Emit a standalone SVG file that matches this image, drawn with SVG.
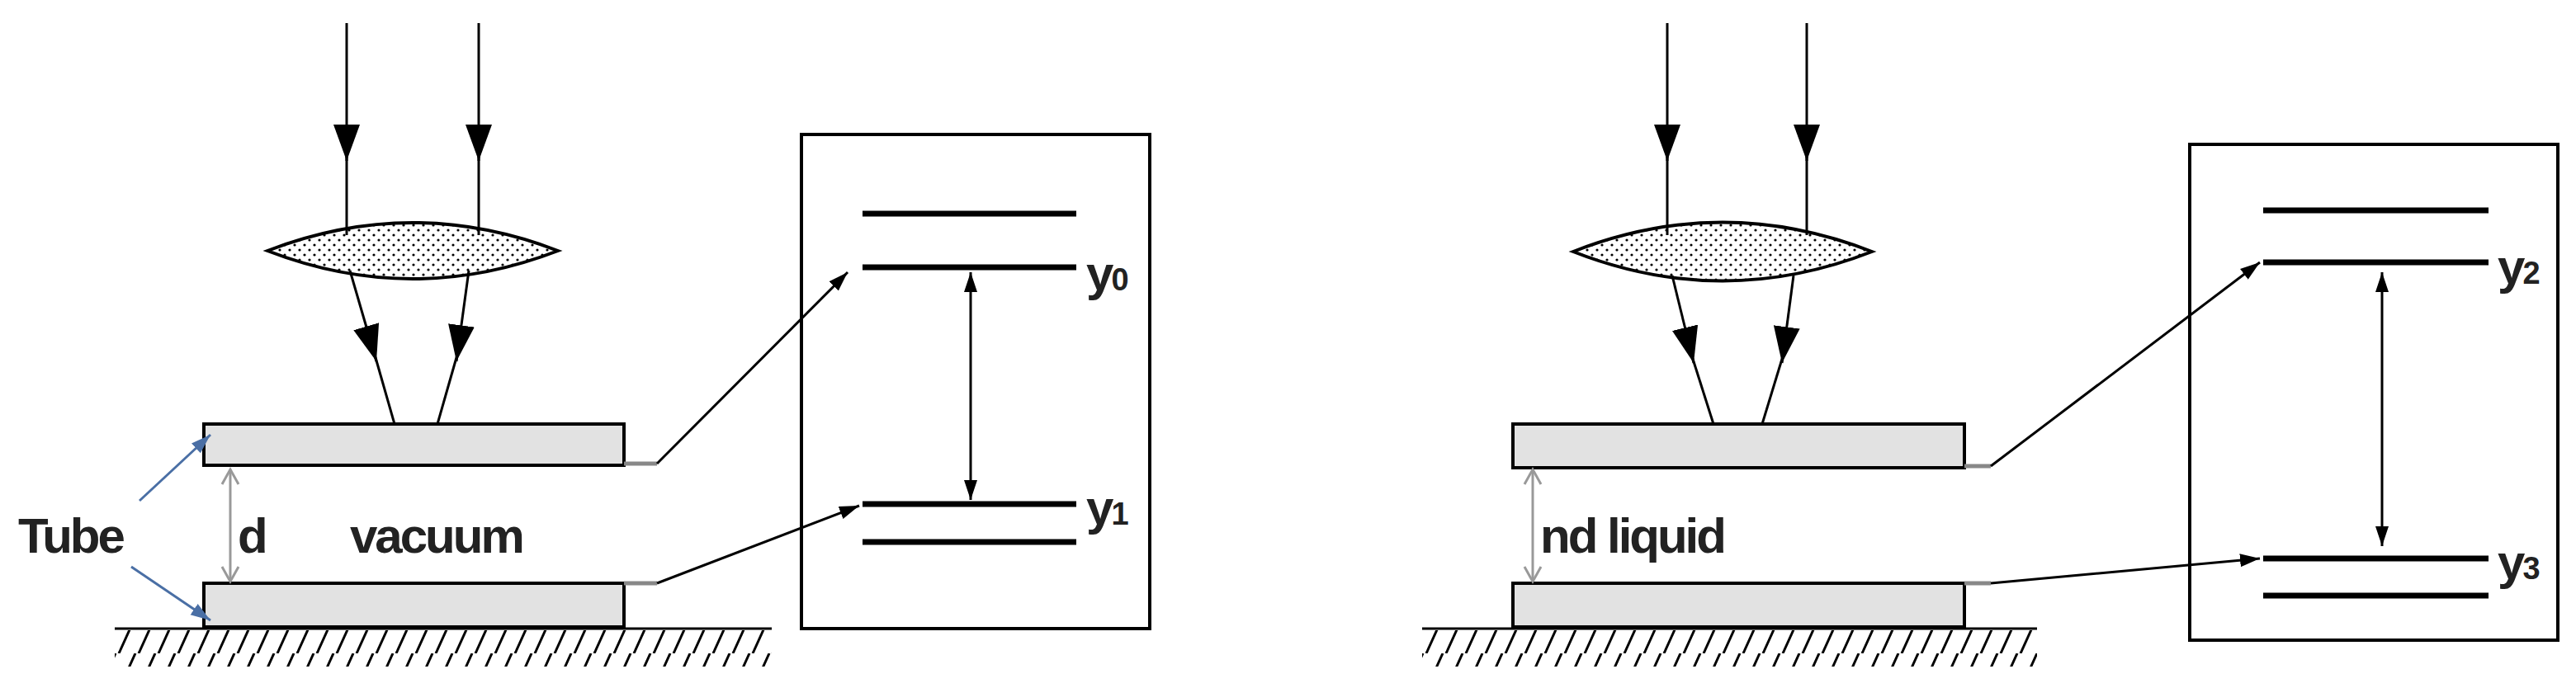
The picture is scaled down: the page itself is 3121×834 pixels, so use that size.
<svg xmlns="http://www.w3.org/2000/svg" width="3121" height="834" viewBox="0 0 3121 834">
<style>
.ln{stroke:#000;stroke-width:3;fill:none}
.lv{stroke:#000;stroke-width:7}
.pl{fill:#e2e2e2;stroke:#000;stroke-width:4}
.gr{stroke:#999;stroke-width:3;fill:none}
.tab{stroke:#888;stroke-width:5}
.bx{fill:#fff;stroke:#000;stroke-width:4}
.lens{fill:url(#dots);stroke:#000;stroke-width:4}
.tx{font-family:"Liberation Sans",Arial,sans-serif;font-weight:bold;font-size:60px;fill:#222;letter-spacing:-3px}
.hat{stroke:#000;stroke-width:3}
</style>
<defs>
<pattern id="dots" width="12" height="12" patternUnits="userSpaceOnUse"><rect width="12" height="12" fill="#fff"/><circle cx="3" cy="3" r="1.6" fill="#000"/><circle cx="9" cy="9" r="1.6" fill="#000"/></pattern>
<pattern id="hatch" width="24" height="44" patternUnits="userSpaceOnUse"><line x1="20" y1="0" x2="0" y2="44" class="hat"/><line x1="44" y1="0" x2="24" y2="44" class="hat"/></pattern>
<marker id="big" markerWidth="46" markerHeight="34" refX="44" refY="17" orient="auto" markerUnits="userSpaceOnUse"><path d="M0,1 L44,17 L0,33 Z" fill="#000"/></marker>
<marker id="ah" markerWidth="26" markerHeight="24" refX="24" refY="12" orient="auto" markerUnits="userSpaceOnUse"><path d="M0,4 L24,12 L0,20 Z" fill="#000"/></marker>
<marker id="ahs" markerWidth="26" markerHeight="24" refX="2" refY="12" orient="auto" markerUnits="userSpaceOnUse"><path d="M26,4 L2,12 L26,20 Z" fill="#000"/></marker>
<marker id="bl" markerWidth="26" markerHeight="24" refX="24" refY="12" orient="auto" markerUnits="userSpaceOnUse"><path d="M0,4 L24,12 L0,20 Z" fill="#4a6fa5"/></marker>
<marker id="ge" markerWidth="24" markerHeight="24" refX="20" refY="12" orient="auto" markerUnits="userSpaceOnUse"><path d="M2,2 L20,12 L2,22" fill="none" stroke="#999" stroke-width="3"/></marker>
<marker id="gs" markerWidth="24" markerHeight="24" refX="4" refY="12" orient="auto" markerUnits="userSpaceOnUse"><path d="M22,2 L4,12 L22,22" fill="none" stroke="#999" stroke-width="3"/></marker>
</defs>
<rect width="3121" height="834" fill="#fff"/>

<g id="left-setup">
<rect x="139" y="764" width="796" height="44" fill="url(#hatch)"/>
<line x1="139" y1="762" x2="935" y2="762" class="ln" stroke-width="4"/>
<path d="M324,304 Q500,236 676,304 Q500,372 324,304 Z" class="lens"/>
<rect x="247" y="514" width="509" height="50" class="pl"/>
<rect x="247" y="707" width="509" height="53" class="pl"/>
<line x1="756" y1="562" x2="796" y2="562" class="tab"/>
<line x1="756" y1="707" x2="796" y2="707" class="tab"/>
<line x1="279" y1="569" x2="279" y2="705" class="gr" marker-start="url(#gs)" marker-end="url(#ge)"/>
<text class="tx" x="22" y="670">Tube</text>
<text class="tx" x="288" y="670">d</text>
<text class="tx" x="424" y="670">vacuum</text>
</g>
<g id="left-levels">
<rect x="971" y="163" width="422" height="599" class="bx"/>
<line x1="1045" y1="259" x2="1304" y2="259" class="lv"/>
<line x1="1045" y1="324" x2="1304" y2="324" class="lv"/>
<line x1="1045" y1="611" x2="1304" y2="611" class="lv"/>
<line x1="1045" y1="657" x2="1304" y2="657" class="lv"/>
<text class="tx" x="1316" y="352">y<tspan font-size="38">0</tspan></text>
<text class="tx" x="1316" y="636">y<tspan font-size="38">1</tspan></text>
</g>

<g id="right-setup">
<rect x="1723" y="764" width="745" height="44" fill="url(#hatch)"/>
<line x1="1723" y1="762" x2="2468" y2="762" class="ln" stroke-width="4"/>
<path d="M1906,305 Q2087,234 2268,305 Q2087,376 1906,305 Z" class="lens"/>
<rect x="1833" y="514" width="547" height="53" class="pl"/>
<rect x="1833" y="707" width="547" height="53" class="pl"/>
<line x1="2380" y1="565" x2="2412" y2="565" class="tab"/>
<line x1="2380" y1="707" x2="2412" y2="707" class="tab"/>
<line x1="1857" y1="569" x2="1857" y2="705" class="gr" marker-start="url(#gs)" marker-end="url(#ge)"/>
<text class="tx" x="1866" y="670">nd liquid</text>
</g>
<g id="right-levels">
<rect x="2653" y="175" width="446" height="601" class="bx"/>
<line x1="2742" y1="255" x2="3015" y2="255" class="lv"/>
<line x1="2742" y1="318" x2="3015" y2="318" class="lv"/>
<line x1="2742" y1="677" x2="3015" y2="677" class="lv"/>
<line x1="2742" y1="722" x2="3015" y2="722" class="lv"/>
<text class="tx" x="3026" y="344">y<tspan font-size="38">2</tspan></text>
<text class="tx" x="3026" y="702">y<tspan font-size="38">3</tspan></text>
</g>

<g id="connectors">
<line x1="420" y1="28" x2="420" y2="195" class="ln" marker-end="url(#big)"/>
<line x1="420" y1="190" x2="420" y2="285" class="ln"/>
<line x1="580" y1="28" x2="580" y2="195" class="ln" marker-end="url(#big)"/>
<line x1="580" y1="190" x2="580" y2="285" class="ln"/>
<line x1="424" y1="328" x2="456" y2="438" class="ln" marker-end="url(#big)"/>
<line x1="454" y1="430" x2="478" y2="514" class="ln"/>
<line x1="568" y1="328" x2="553" y2="438" class="ln" marker-end="url(#big)"/>
<line x1="554" y1="430" x2="530" y2="514" class="ln"/>
<line x1="796" y1="562" x2="1027" y2="330" class="ln" marker-end="url(#ah)"/>
<line x1="796" y1="707" x2="1041" y2="613" class="ln" marker-end="url(#ah)"/>
<line x1="1176" y1="330" x2="1176" y2="606" class="ln" marker-start="url(#ahs)" marker-end="url(#ah)"/>
<line x1="169" y1="607" x2="255" y2="527" stroke="#4a6fa5" stroke-width="3" marker-end="url(#bl)"/>
<line x1="159" y1="687" x2="255" y2="752" stroke="#4a6fa5" stroke-width="3" marker-end="url(#bl)"/>

<line x1="2020" y1="28" x2="2020" y2="195" class="ln" marker-end="url(#big)"/>
<line x1="2020" y1="190" x2="2020" y2="285" class="ln"/>
<line x1="2189" y1="28" x2="2189" y2="195" class="ln" marker-end="url(#big)"/>
<line x1="2189" y1="190" x2="2189" y2="285" class="ln"/>
<line x1="2026" y1="334" x2="2052" y2="440" class="ln" marker-end="url(#big)"/>
<line x1="2050" y1="432" x2="2076" y2="514" class="ln"/>
<line x1="2173" y1="334" x2="2159" y2="440" class="ln" marker-end="url(#big)"/>
<line x1="2160" y1="432" x2="2135" y2="514" class="ln"/>
<line x1="2412" y1="565" x2="2738" y2="318" class="ln" marker-end="url(#ah)"/>
<line x1="2412" y1="707" x2="2738" y2="677" class="ln" marker-end="url(#ah)"/>
<line x1="2886" y1="330" x2="2886" y2="662" class="ln" marker-start="url(#ahs)" marker-end="url(#ah)"/>
</g>
</svg>
